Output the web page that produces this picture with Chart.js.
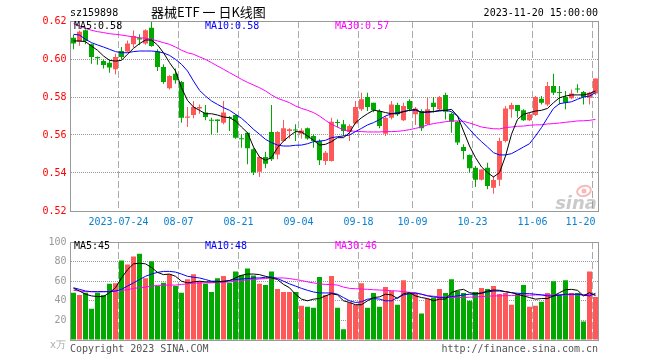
<!DOCTYPE html>
<html>
<head>
<meta charset="utf-8">
<script src="https://cdn.jsdelivr.net/npm/chart.js@4.4.0/dist/chart.umd.min.js"></script>
<style>
  html, body { margin: 0; padding: 0; background: #fff; }
  #wrap { position: relative; width: 660px; height: 360px; }
  canvas { position: absolute; left: 0; }
  #kline { top: 0; }
  #vol { top: 232px; }
</style>
</head>
<body>
<div id="wrap">
  <canvas id="kline" width="660" height="232"></canvas>
  <canvas id="vol" width="660" height="128"></canvas>
</div>
<script>
// 器械ETF 日K线 (sz159898)
const stockCode = "sz159898";
const stockTitle = "器械ETF 一 日K线图";
const stamp = "2023-11-20 15:00:00";

const dates = [
  '2023-07-12','2023-07-13','2023-07-14','2023-07-17','2023-07-18','2023-07-19','2023-07-20','2023-07-21','2023-07-24','2023-07-25',
  '2023-07-26','2023-07-27','2023-07-28','2023-07-31','2023-08-01','2023-08-02','2023-08-03','2023-08-04','2023-08-07','2023-08-08',
  '2023-08-09','2023-08-10','2023-08-11','2023-08-14','2023-08-15','2023-08-16','2023-08-17','2023-08-18','2023-08-21','2023-08-22',
  '2023-08-23','2023-08-24','2023-08-25','2023-08-28','2023-08-29','2023-08-30','2023-08-31','2023-09-01','2023-09-04','2023-09-05',
  '2023-09-06','2023-09-07','2023-09-08','2023-09-11','2023-09-12','2023-09-13','2023-09-14','2023-09-15','2023-09-18','2023-09-19',
  '2023-09-20','2023-09-21','2023-09-22','2023-09-25','2023-09-26','2023-09-27','2023-09-28','2023-10-09','2023-10-10','2023-10-11',
  '2023-10-12','2023-10-13','2023-10-16','2023-10-17','2023-10-18','2023-10-19','2023-10-20','2023-10-23','2023-10-24','2023-10-25',
  '2023-10-26','2023-10-27','2023-10-30','2023-10-31','2023-11-01','2023-11-02','2023-11-03','2023-11-06','2023-11-07','2023-11-08',
  '2023-11-09','2023-11-10','2023-11-13','2023-11-14','2023-11-15','2023-11-16','2023-11-17','2023-11-20'
];

// 눈금 라벨
const tickDates = ['2023-07-24','2023-08-07','2023-08-21','2023-09-04','2023-09-18','2023-10-09','2023-10-23','2023-11-06','2023-11-20'];
const tickText  = ['2023-07-24','08-07','08-21','09-04','09-18','10-09','10-23','11-06','11-20    '];

const opens = [
  0.6112,0.6091,0.6151,0.6077,0.6011,0.5990,0.5980,0.5946,0.6042,0.6039,
  0.6077,0.6109,0.6081,0.6165,0.6039,0.5958,0.5846,0.5923,0.5879,0.5691,
  0.5705,0.5740,0.5718,0.5678,0.5681,0.5665,0.5693,0.5705,0.5579,0.5612,
  0.5525,0.5407,0.5484,0.5616,0.5498,0.5568,0.5621,0.5626,0.5607,0.5635,
  0.5595,0.5568,0.5463,0.5463,0.5667,0.5656,0.5616,0.5660,0.5735,0.5800,
  0.5770,0.5726,0.5607,0.5691,0.5758,0.5677,0.5779,0.5709,0.5726,0.5658,
  0.5770,0.5735,0.5811,0.5712,0.5670,0.5537,0.5495,0.5428,0.5365,0.5428,
  0.5323,0.5365,0.5568,0.5735,0.5758,0.5730,0.5677,0.5705,0.5791,0.5761,
  0.5858,0.5823,0.5800,0.5793,0.5842,0.5826,0.5796,0.5818
];
const highs = [
  0.6126,0.6150,0.6156,0.6080,0.6013,0.5998,0.5993,0.6028,0.6063,0.6098,
  0.6150,0.6130,0.6156,0.6200,0.6051,0.5972,0.5916,0.5950,0.5884,0.5747,
  0.5779,0.5761,0.5758,0.5691,0.5681,0.5779,0.5700,0.5709,0.5604,0.5615,
  0.5530,0.5490,0.5512,0.5758,0.5621,0.5679,0.5635,0.5656,0.5635,0.5639,
  0.5604,0.5577,0.5516,0.5691,0.5682,0.5679,0.5656,0.5779,0.5823,0.5823,
  0.5770,0.5735,0.5700,0.5779,0.5770,0.5770,0.5788,0.5747,0.5735,0.5796,
  0.5800,0.5805,0.5823,0.5718,0.5674,0.5551,0.5498,0.5437,0.5419,0.5454,
  0.5384,0.5586,0.5753,0.5770,0.5758,0.5735,0.5718,0.5805,0.5805,0.5879,
  0.5923,0.5858,0.5832,0.5840,0.5867,0.5832,0.5828,0.5898
];
const lows = [
  0.6051,0.6070,0.6077,0.5975,0.5970,0.5950,0.5928,0.5919,0.6000,0.6035,
  0.6060,0.6074,0.6075,0.6065,0.5937,0.5870,0.5840,0.5870,0.5665,0.5642,
  0.5688,0.5712,0.5677,0.5603,0.5612,0.5656,0.5621,0.5580,0.5533,0.5446,
  0.5390,0.5379,0.5425,0.5463,0.5472,0.5565,0.5582,0.5568,0.5582,0.5575,
  0.5533,0.5442,0.5442,0.5460,0.5639,0.5595,0.5568,0.5656,0.5726,0.5726,
  0.5720,0.5635,0.5595,0.5682,0.5700,0.5674,0.5725,0.5653,0.5621,0.5653,
  0.5718,0.5726,0.5682,0.5612,0.5547,0.5472,0.5402,0.5326,0.5360,0.5314,
  0.5291,0.5332,0.5560,0.5691,0.5691,0.5674,0.5674,0.5700,0.5760,0.5753,
  0.5810,0.5761,0.5735,0.5788,0.5823,0.5761,0.5761,0.5811
];
const closes = [
  0.6081,0.6144,0.6095,0.6011,0.6004,0.5968,0.5955,0.6010,0.6011,0.6081,
  0.6121,0.6102,0.6151,0.6068,0.5958,0.5879,0.5911,0.5888,0.5691,0.5698,
  0.5747,0.5747,0.5695,0.5675,0.5674,0.5718,0.5689,0.5586,0.5577,0.5530,
  0.5402,0.5484,0.5449,0.5472,0.5616,0.5635,0.5630,0.5624,0.5624,0.5582,
  0.5568,0.5467,0.5507,0.5670,0.5663,0.5621,0.5647,0.5747,0.5788,0.5747,
  0.5730,0.5647,0.5691,0.5761,0.5709,0.5753,0.5735,0.5740,0.5635,0.5735,
  0.5747,0.5800,0.5723,0.5670,0.5560,0.5516,0.5425,0.5365,0.5419,0.5332,
  0.5363,0.5568,0.5740,0.5758,0.5726,0.5677,0.5709,0.5800,0.5770,0.5858,
  0.5823,0.5821,0.5770,0.5818,0.5840,0.5800,0.5823,0.5898
];

// 가격 이동평균
const ma5 = [
  0.6095,0.6095,0.6091,0.6068,0.6046,0.6016,0.5993,0.5989,0.5993,0.6025,
  0.6056,0.6081,0.6100,0.6100,0.6074,0.6033,0.5981,0.5937,0.5849,0.5782,
  0.5747,0.5730,0.5712,0.5712,0.5705,0.5695,0.5691,0.5674,0.5642,0.5612,
  0.5537,0.5484,0.5467,0.5481,0.5533,0.5568,0.5595,0.5618,0.5616,0.5595,
  0.5572,0.5547,0.5551,0.5565,0.5586,0.5586,0.5612,0.5665,0.5691,0.5712,
  0.5730,0.5726,0.5718,0.5712,0.5712,0.5723,0.5730,0.5735,0.5718,0.5723,
  0.5723,0.5730,0.5730,0.5735,0.5700,0.5621,0.5542,0.5481,0.5432,0.5402,
  0.5379,0.5402,0.5489,0.5604,0.5682,0.5709,0.5718,0.5726,0.5730,0.5740,
  0.5770,0.5796,0.5805,0.5811,0.5811,0.5811,0.5818,0.5832
];
const ma10 = [
  0.6130,0.6126,0.6104,0.6086,0.6074,0.6063,0.6051,0.6039,0.6033,0.6033,
  0.6039,0.6042,0.6042,0.6042,0.6039,0.6032,0.6019,0.5998,0.5972,0.5937,
  0.5884,0.5835,0.5805,0.5779,0.5761,0.5744,0.5730,0.5709,0.5688,0.5660,
  0.5630,0.5604,0.5577,0.5560,0.5547,0.5542,0.5542,0.5546,0.5547,0.5554,
  0.5565,0.5568,0.5572,0.5586,0.5591,0.5595,0.5600,0.5618,0.5635,0.5653,
  0.5665,0.5681,0.5700,0.5712,0.5718,0.5723,0.5730,0.5730,0.5721,0.5718,
  0.5723,0.5726,0.5730,0.5723,0.5700,0.5665,0.5630,0.5595,0.5565,0.5537,
  0.5507,0.5495,0.5495,0.5502,0.5519,0.5537,0.5554,0.5595,0.5639,0.5691,
  0.5740,0.5765,0.5770,0.5775,0.5788,0.5800,0.5805,0.5823
];
const ma30 = [
  0.6186,0.6174,0.6161,0.6151,0.6144,0.6139,0.6133,0.6130,0.6126,0.6121,
  0.6116,0.6112,0.6109,0.6104,0.6095,0.6086,0.6077,0.6063,0.6046,0.6033,
  0.6025,0.6011,0.5998,0.5981,0.5963,0.5946,0.5928,0.5911,0.5893,0.5877,
  0.5863,0.5849,0.5832,0.5811,0.5793,0.5782,0.5770,0.5753,0.5740,0.5730,
  0.5718,0.5700,0.5677,0.5656,0.5642,0.5626,0.5623,0.5619,0.5618,0.5616,
  0.5616,0.5616,0.5618,0.5618,0.5619,0.5623,0.5628,0.5635,0.5642,0.5653,
  0.5660,0.5665,0.5670,0.5674,0.5674,0.5672,0.5663,0.5653,0.5642,0.5637,
  0.5633,0.5632,0.5639,0.5642,0.5646,0.5647,0.5651,0.5653,0.5654,0.5658,
  0.5660,0.5663,0.5667,0.5670,0.5674,0.5675,0.5677,0.5682
];

// 거래량 (만)
const vols = [
  48.3,46,48.3,32,48.3,46,57.3,58,81,77,
  85.3,88,63,80.3,55,58.3,67,55,48.3,62,
  67,60,57.3,49,63,65.3,58.3,70,66.3,73,
  65.7,57.3,56,70,52,49,49,49,35,34,
  33,64.3,46,65.3,33,11,38.3,36,58,33,
  48,34,54,50,36,61,48,48,27,42,
  43.3,52,48,62,50,48,40,49,53,52,
  55,47,48,36,47,56,34,35,39,48,
  60,46.7,61,48,48,19,70,44
];
const vma5 = [
  52.7,50,46.7,45,44.3,44.3,48.3,53.3,63.3,71.7,
  77.7,78.3,77.7,74,69,66.7,67.3,65,60,58.3,
  59.3,60,59.3,59.3,59.3,60,60.7,63.3,66,67.3,
  67.3,66.7,65,63.3,61.7,56.7,53.3,46.7,41.7,40,
  41.7,42.3,45,47.3,46,40,38.3,36,36,40,
  43.3,44,46.7,46,42.3,47.3,48.3,45,43.3,42.3,
  40,41.7,41.7,48.3,50.7,51.7,48.3,47.3,48,50,
  51,50.7,49.3,48.3,46.7,45,43.3,41.7,42.3,42.3,
  45,48.3,51.3,51.7,50.7,45,48.3,45.3
];
const vma10 = [
  53.3,51.7,50,49.3,49.3,49.3,49.3,50,51.7,55,
  58.3,61.7,65,67.3,69,70,70,69.3,67.3,65,
  64,63.3,61.7,60,60,59.3,60.7,61.7,62.3,62.7,
  63.3,63.3,64,64.3,62.7,60,57.3,55,52.7,50.7,
  49,48,48,48,46.7,43.3,40,38.3,39,41.7,
  42.3,41.7,40,40,43.3,46,47.3,48,46.7,45,
  44,43.3,43.3,44.3,45,46,46.7,46.7,47.7,49,
  50,50,49.3,48.3,47.7,47.3,47.3,46.7,46,45,
  45,45.7,46.7,46.7,46.7,45.7,45,47.7
];
const vma30 = [
  50.7,50,49.3,49.3,49.3,49.3,49.7,50,50.7,51.3,
  52.7,53.3,54,55,55.7,56,56,56,56.7,57.3,
  58,58.3,58.3,58.3,58.7,59,59.3,60,60.7,61.3,
  61.7,62.3,62.7,63.3,63.3,63.3,62.7,61.7,60.7,59.3,
  58.3,57.3,56.7,56.7,56,54,52.7,52.3,52,51.7,
  51.3,51,50.7,50.3,50,49.3,48.7,48,46.7,45.3,
  44.7,44,43.7,43.3,43.3,43.3,43.7,44,44.3,44.7,
  45,45,45.3,45.3,45.7,45.7,45.7,46,46,46,
  46,46,46,46.3,46.3,46.3,46.3,46.3
];

const upColor = '#ff5858';
const downColor = '#00a800';
const maColors = ['#000000', '#0000ff', '#ff00ff'];
const monoFont = '"DejaVu Sans Mono", "Liberation Mono", monospace';

let candleColor = closes.map((c, i) => c >= opens[i] ? upColor : downColor);
let last = dates.length - 1;

function maLine(label, data, color){
    return {
        type: 'line', label: label, data: data,
        borderColor: color, borderWidth: 1,
        pointRadius: 0, tension: 0, order: 0
    };
}

function xGridColor(ctx){
    return tickDates.indexOf(dates[ctx.index]) >= 0 ? '#aaaaaa' : 'rgba(0,0,0,0)';
}

// 테두리
function drawBox(ctx, a){
    let x0 = Math.floor(a.left) + 0.5, y0 = Math.floor(a.top) + 0.5;
    let x1 = Math.floor(a.right) + 0.5, y1 = Math.floor(a.bottom) + 0.5;
    ctx.strokeStyle = '#999999';
    ctx.lineWidth = 1;
    ctx.strokeRect(x0, y0, x1 - x0, y1 - y0);
}

function drawLegend(ctx, y, texts){
    const xs = [74, 205, 335];
    ctx.font = '10px ' + monoFont;
    ctx.textAlign = 'left';
    ctx.textBaseline = 'middle';
    texts.forEach((t, i) => {
        ctx.fillStyle = maColors[i];
        ctx.fillText(t, xs[i], y);
    });
}

const klineDeco = {
    id: 'klineDeco',
    beforeDatasetsDraw(chart){
        // sina 워터마크
        const ctx = chart.ctx;
        ctx.save();
        ctx.strokeStyle = 'rgba(235,100,100,0.45)';
        ctx.lineWidth = 2;
        ctx.beginPath();
        ctx.ellipse(584, 191, 7, 5, -0.3, 0, Math.PI * 2);
        ctx.stroke();
        ctx.fillStyle = 'rgba(235,100,100,0.45)';
        ctx.beginPath();
        ctx.arc(584, 191, 2.5, 0, Math.PI * 2);
        ctx.fill();
        ctx.font = 'italic bold 18px "DejaVu Sans", sans-serif';
        ctx.fillStyle = 'rgba(150,150,150,0.5)';
        ctx.textAlign = 'right';
        ctx.textBaseline = 'alphabetic';
        ctx.fillText('sina', 597, 209);
        ctx.restore();
    },
    afterDraw(chart){
        const ctx = chart.ctx;
        ctx.save();
        drawBox(ctx, chart.chartArea);

        ctx.fillStyle = '#000';
        ctx.textBaseline = 'middle';
        ctx.font = '10px ' + monoFont;
        ctx.textAlign = 'left';
        ctx.fillText(stockCode, 70, 13);
        ctx.textAlign = 'right';
        ctx.fillText(stamp, 598, 13);
        ctx.font = '13px "Noto Sans CJK SC", sans-serif';
        ctx.textAlign = 'left';
        ctx.fillText(stockTitle, 151, 12);

        drawLegend(ctx, 26, [
            'MA5:' + ma5[last].toFixed(2),
            'MA10:' + ma10[last].toFixed(2),
            'MA30:' + ma30[last].toFixed(2)
        ]);
        ctx.restore();
    }
};

const volDeco = {
    id: 'volDeco',
    afterDraw(chart){
        const ctx = chart.ctx;
        const a = chart.chartArea;
        ctx.save();
        drawBox(ctx, a);
        drawLegend(ctx, 14, [
            'MA5:' + Math.round(vma5[last]),
            'MA10:' + Math.round(vma10[last]),
            'MA30:' + Math.round(vma30[last])
        ]);
        ctx.font = '10px ' + monoFont;
        ctx.fillStyle = '#aaaaaa';
        ctx.textAlign = 'right';
        ctx.fillText('x万', 66, a.bottom + 5);
        ctx.fillStyle = '#555555';
        ctx.textAlign = 'left';
        ctx.fillText('Copyright 2023 SINA.COM', 70, a.bottom + 9);
        ctx.textAlign = 'right';
        ctx.fillText('http://finance.sina.com.cn', 598, a.bottom + 9);
        ctx.restore();
    }
};

function baseX(showTicks){
    return {
        offset: true,
        grid: { offset: true, color: xGridColor, lineWidth: 1, drawTicks: false },
        border: { display: false, dash: [7, 3] },
        ticks: {
            display: showTicks,
            autoSkip: false, maxRotation: 0, minRotation: 0,
            labelOffset: -3, padding: 5,
            color: '#0b80d0',
            font: { family: monoFont, size: 10 },
            callback: function(value, index){
                let k = tickDates.indexOf(dates[index]);
                return k >= 0 ? tickText[k] : '';
            }
        },
        afterFit: showTicks ? function(s){ s.height = 21; } : function(s){ s.height = 20; }
    };
}

// K선 차트
let chartK = new Chart(document.getElementById('kline').getContext('2d'), {
    type: 'bar',
    data: {
        labels: dates,
        datasets: [
            maLine('MA5', ma5, maColors[0]),
            maLine('MA10', ma10, maColors[1]),
            maLine('MA30', ma30, maColors[2]),
            {
                label: 'body',
                data: opens.map((o, i) => [o, closes[i]]),
                backgroundColor: candleColor,
                barThickness: 5, minBarLength: 1, inflateAmount: 0,
                grouped: false, order: 1
            },
            {
                label: 'wick',
                data: lows.map((l, i) => [l, highs[i]]),
                backgroundColor: candleColor,
                barThickness: 1, inflateAmount: 0,
                grouped: false, order: 2
            }
        ]
    },
    options: {
        responsive: false,
        animation: false,
        events: [],
        layout: { padding: { left: 0, right: 61.5, top: 21, bottom: 0 } },
        plugins: { legend: { display: false }, tooltip: { enabled: false } },
        scales: {
            x: baseX(true),
            y: {
                min: 0.52, max: 0.62,
                grid: { color: '#999999', lineWidth: 1, drawTicks: false },
                border: { display: false, dash: [1, 1] },
                ticks: {
                    stepSize: 0.02, padding: 4, color: '#ff0000',
                    font: { family: monoFont, size: 10 },
                    callback: v => v.toFixed(2)
                },
                afterFit: function(s){ s.width = 70.5; }
            }
        }
    },
    plugins: [klineDeco]
});

// 거래량 차트
let chartV = new Chart(document.getElementById('vol').getContext('2d'), {
    type: 'bar',
    data: {
        labels: dates,
        datasets: [
            maLine('MA5', vma5, maColors[0]),
            maLine('MA10', vma10, maColors[1]),
            maLine('MA30', vma30, maColors[2]),
            {
                label: 'vol',
                data: vols,
                backgroundColor: candleColor,
                barThickness: 5, inflateAmount: 0,
                order: 1
            }
        ]
    },
    options: {
        responsive: false,
        animation: false,
        events: [],
        layout: { padding: { left: 0, right: 61.5, top: 8, bottom: 0 } },
        plugins: { legend: { display: false }, tooltip: { enabled: false } },
        scales: {
            x: baseX(false),
            y: {
                min: 0, max: 100,
                grid: { color: '#999999', lineWidth: 1, drawTicks: false },
                border: { display: false, dash: [1, 1] },
                ticks: {
                    stepSize: 20, padding: 4, color: '#999999',
                    font: { family: monoFont, size: 10 },
                    callback: v => v === 0 ? '' : v
                },
                afterFit: function(s){ s.width = 70.5; }
            }
        }
    },
    plugins: [volDeco]
});
</script>
</body>
</html>
